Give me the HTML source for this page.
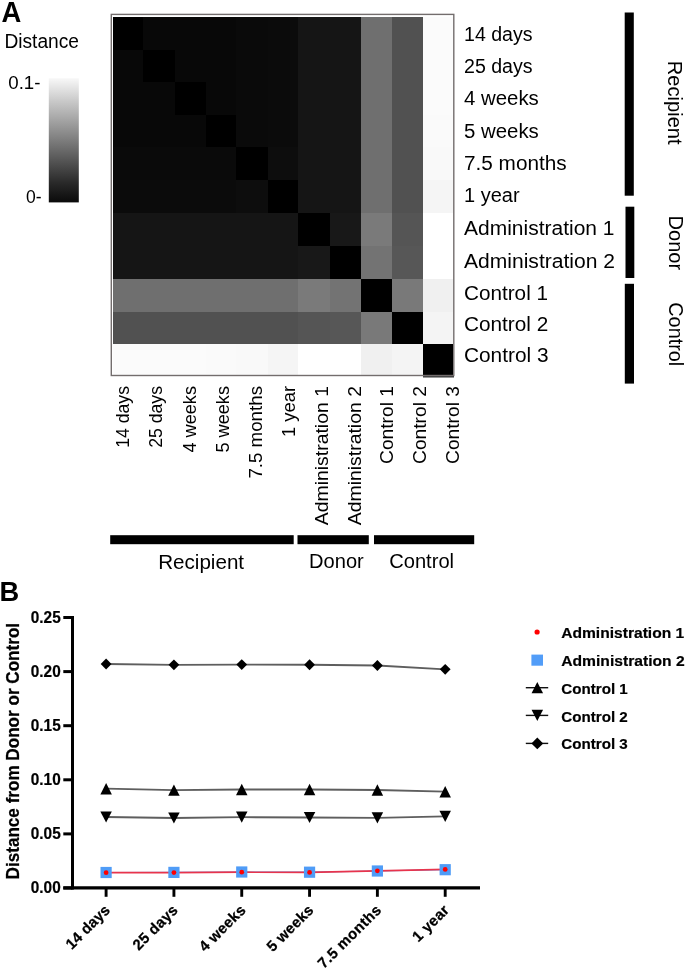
<!DOCTYPE html>
<html><head><meta charset="utf-8"><title>Figure</title>
<style>
html,body{margin:0;padding:0;background:#fff;}
body{width:687px;height:970px;overflow:hidden;font-family:"Liberation Sans",sans-serif;}
svg{display:block;will-change:transform;}
svg text{font-family:"Liberation Sans",sans-serif;fill:#000;}
</style></head><body>
<svg width="687" height="970" viewBox="0 0 687 970">

<text x="1.4" y="21.6"  font-weight="bold" font-size="29.5" textLength="19.8" lengthAdjust="spacingAndGlyphs">A</text>
<text x="4.4" y="47.7"  font-size="19.5" textLength="74.6" lengthAdjust="spacingAndGlyphs">Distance</text>
<defs><linearGradient id="cb" x1="0" y1="0" x2="0" y2="1"><stop offset="0" stop-color="#f8f8f8"/><stop offset="0.18" stop-color="#cacaca"/><stop offset="0.52" stop-color="#787878"/><stop offset="0.84" stop-color="#2a2a2a"/><stop offset="1" stop-color="#0a0a0a"/></linearGradient></defs>
<rect x="48.8" y="78.2" width="30" height="124.2" fill="url(#cb)"/>
<text x="8.3" y="89.3"  font-size="19.2" textLength="32.2" lengthAdjust="spacingAndGlyphs">0.1-</text>
<text x="26.1" y="202.5"  font-size="19.2" textLength="15.6" lengthAdjust="spacingAndGlyphs">0-</text>
<g shape-rendering="crispEdges">
<rect x="112.60" y="16.80" width="30.00" height="33.00" fill="rgb(0,0,0)"/>
<rect x="142.60" y="16.80" width="32.10" height="33.00" fill="rgb(8,8,8)"/>
<rect x="174.70" y="16.80" width="31.10" height="33.00" fill="rgb(8,8,8)"/>
<rect x="205.80" y="16.80" width="30.40" height="33.00" fill="rgb(8,8,8)"/>
<rect x="236.20" y="16.80" width="31.90" height="33.00" fill="rgb(10,10,10)"/>
<rect x="268.10" y="16.80" width="30.20" height="33.00" fill="rgb(11,11,11)"/>
<rect x="298.30" y="16.80" width="31.30" height="33.00" fill="rgb(21,21,21)"/>
<rect x="329.60" y="16.80" width="31.10" height="33.00" fill="rgb(21,21,21)"/>
<rect x="360.70" y="16.80" width="31.30" height="33.00" fill="rgb(111,111,111)"/>
<rect x="392.00" y="16.80" width="31.00" height="33.00" fill="rgb(81,81,81)"/>
<rect x="423.00" y="16.80" width="30.00" height="33.00" fill="rgb(251,251,251)"/>
<rect x="112.60" y="49.80" width="30.00" height="32.00" fill="rgb(8,8,8)"/>
<rect x="142.60" y="49.80" width="32.10" height="32.00" fill="rgb(0,0,0)"/>
<rect x="174.70" y="49.80" width="31.10" height="32.00" fill="rgb(8,8,8)"/>
<rect x="205.80" y="49.80" width="30.40" height="32.00" fill="rgb(8,8,8)"/>
<rect x="236.20" y="49.80" width="31.90" height="32.00" fill="rgb(10,10,10)"/>
<rect x="268.10" y="49.80" width="30.20" height="32.00" fill="rgb(11,11,11)"/>
<rect x="298.30" y="49.80" width="31.30" height="32.00" fill="rgb(21,21,21)"/>
<rect x="329.60" y="49.80" width="31.10" height="32.00" fill="rgb(21,21,21)"/>
<rect x="360.70" y="49.80" width="31.30" height="32.00" fill="rgb(111,111,111)"/>
<rect x="392.00" y="49.80" width="31.00" height="32.00" fill="rgb(81,81,81)"/>
<rect x="423.00" y="49.80" width="30.00" height="32.00" fill="rgb(251,251,251)"/>
<rect x="112.60" y="81.80" width="30.00" height="33.20" fill="rgb(8,8,8)"/>
<rect x="142.60" y="81.80" width="32.10" height="33.20" fill="rgb(8,8,8)"/>
<rect x="174.70" y="81.80" width="31.10" height="33.20" fill="rgb(0,0,0)"/>
<rect x="205.80" y="81.80" width="30.40" height="33.20" fill="rgb(8,8,8)"/>
<rect x="236.20" y="81.80" width="31.90" height="33.20" fill="rgb(10,10,10)"/>
<rect x="268.10" y="81.80" width="30.20" height="33.20" fill="rgb(11,11,11)"/>
<rect x="298.30" y="81.80" width="31.30" height="33.20" fill="rgb(21,21,21)"/>
<rect x="329.60" y="81.80" width="31.10" height="33.20" fill="rgb(21,21,21)"/>
<rect x="360.70" y="81.80" width="31.30" height="33.20" fill="rgb(111,111,111)"/>
<rect x="392.00" y="81.80" width="31.00" height="33.20" fill="rgb(81,81,81)"/>
<rect x="423.00" y="81.80" width="30.00" height="33.20" fill="rgb(251,251,251)"/>
<rect x="112.60" y="115.00" width="30.00" height="32.40" fill="rgb(8,8,8)"/>
<rect x="142.60" y="115.00" width="32.10" height="32.40" fill="rgb(8,8,8)"/>
<rect x="174.70" y="115.00" width="31.10" height="32.40" fill="rgb(8,8,8)"/>
<rect x="205.80" y="115.00" width="30.40" height="32.40" fill="rgb(0,0,0)"/>
<rect x="236.20" y="115.00" width="31.90" height="32.40" fill="rgb(10,10,10)"/>
<rect x="268.10" y="115.00" width="30.20" height="32.40" fill="rgb(11,11,11)"/>
<rect x="298.30" y="115.00" width="31.30" height="32.40" fill="rgb(21,21,21)"/>
<rect x="329.60" y="115.00" width="31.10" height="32.40" fill="rgb(21,21,21)"/>
<rect x="360.70" y="115.00" width="31.30" height="32.40" fill="rgb(111,111,111)"/>
<rect x="392.00" y="115.00" width="31.00" height="32.40" fill="rgb(81,81,81)"/>
<rect x="423.00" y="115.00" width="30.00" height="32.40" fill="rgb(250,250,250)"/>
<rect x="112.60" y="147.40" width="30.00" height="32.90" fill="rgb(10,10,10)"/>
<rect x="142.60" y="147.40" width="32.10" height="32.90" fill="rgb(10,10,10)"/>
<rect x="174.70" y="147.40" width="31.10" height="32.90" fill="rgb(10,10,10)"/>
<rect x="205.80" y="147.40" width="30.40" height="32.90" fill="rgb(10,10,10)"/>
<rect x="236.20" y="147.40" width="31.90" height="32.90" fill="rgb(0,0,0)"/>
<rect x="268.10" y="147.40" width="30.20" height="32.90" fill="rgb(13,13,13)"/>
<rect x="298.30" y="147.40" width="31.30" height="32.90" fill="rgb(21,21,21)"/>
<rect x="329.60" y="147.40" width="31.10" height="32.90" fill="rgb(21,21,21)"/>
<rect x="360.70" y="147.40" width="31.30" height="32.90" fill="rgb(111,111,111)"/>
<rect x="392.00" y="147.40" width="31.00" height="32.90" fill="rgb(81,81,81)"/>
<rect x="423.00" y="147.40" width="30.00" height="32.90" fill="rgb(249,249,249)"/>
<rect x="112.60" y="180.30" width="30.00" height="32.90" fill="rgb(11,11,11)"/>
<rect x="142.60" y="180.30" width="32.10" height="32.90" fill="rgb(11,11,11)"/>
<rect x="174.70" y="180.30" width="31.10" height="32.90" fill="rgb(11,11,11)"/>
<rect x="205.80" y="180.30" width="30.40" height="32.90" fill="rgb(11,11,11)"/>
<rect x="236.20" y="180.30" width="31.90" height="32.90" fill="rgb(13,13,13)"/>
<rect x="268.10" y="180.30" width="30.20" height="32.90" fill="rgb(0,0,0)"/>
<rect x="298.30" y="180.30" width="31.30" height="32.90" fill="rgb(21,21,21)"/>
<rect x="329.60" y="180.30" width="31.10" height="32.90" fill="rgb(21,21,21)"/>
<rect x="360.70" y="180.30" width="31.30" height="32.90" fill="rgb(111,111,111)"/>
<rect x="392.00" y="180.30" width="31.00" height="32.90" fill="rgb(81,81,81)"/>
<rect x="423.00" y="180.30" width="30.00" height="32.90" fill="rgb(245,245,245)"/>
<rect x="112.60" y="213.20" width="30.00" height="32.60" fill="rgb(21,21,21)"/>
<rect x="142.60" y="213.20" width="32.10" height="32.60" fill="rgb(21,21,21)"/>
<rect x="174.70" y="213.20" width="31.10" height="32.60" fill="rgb(21,21,21)"/>
<rect x="205.80" y="213.20" width="30.40" height="32.60" fill="rgb(21,21,21)"/>
<rect x="236.20" y="213.20" width="31.90" height="32.60" fill="rgb(21,21,21)"/>
<rect x="268.10" y="213.20" width="30.20" height="32.60" fill="rgb(21,21,21)"/>
<rect x="298.30" y="213.20" width="31.30" height="32.60" fill="rgb(0,0,0)"/>
<rect x="329.60" y="213.20" width="31.10" height="32.60" fill="rgb(24,24,24)"/>
<rect x="360.70" y="213.20" width="31.30" height="32.60" fill="rgb(122,122,122)"/>
<rect x="392.00" y="213.20" width="31.00" height="32.60" fill="rgb(85,85,85)"/>
<rect x="423.00" y="213.20" width="30.00" height="32.60" fill="rgb(255,255,255)"/>
<rect x="112.60" y="245.80" width="30.00" height="32.90" fill="rgb(21,21,21)"/>
<rect x="142.60" y="245.80" width="32.10" height="32.90" fill="rgb(21,21,21)"/>
<rect x="174.70" y="245.80" width="31.10" height="32.90" fill="rgb(21,21,21)"/>
<rect x="205.80" y="245.80" width="30.40" height="32.90" fill="rgb(21,21,21)"/>
<rect x="236.20" y="245.80" width="31.90" height="32.90" fill="rgb(21,21,21)"/>
<rect x="268.10" y="245.80" width="30.20" height="32.90" fill="rgb(21,21,21)"/>
<rect x="298.30" y="245.80" width="31.30" height="32.90" fill="rgb(24,24,24)"/>
<rect x="329.60" y="245.80" width="31.10" height="32.90" fill="rgb(0,0,0)"/>
<rect x="360.70" y="245.80" width="31.30" height="32.90" fill="rgb(115,115,115)"/>
<rect x="392.00" y="245.80" width="31.00" height="32.90" fill="rgb(87,87,87)"/>
<rect x="423.00" y="245.80" width="30.00" height="32.90" fill="rgb(255,255,255)"/>
<rect x="112.60" y="278.70" width="30.00" height="32.80" fill="rgb(111,111,111)"/>
<rect x="142.60" y="278.70" width="32.10" height="32.80" fill="rgb(111,111,111)"/>
<rect x="174.70" y="278.70" width="31.10" height="32.80" fill="rgb(111,111,111)"/>
<rect x="205.80" y="278.70" width="30.40" height="32.80" fill="rgb(111,111,111)"/>
<rect x="236.20" y="278.70" width="31.90" height="32.80" fill="rgb(111,111,111)"/>
<rect x="268.10" y="278.70" width="30.20" height="32.80" fill="rgb(111,111,111)"/>
<rect x="298.30" y="278.70" width="31.30" height="32.80" fill="rgb(122,122,122)"/>
<rect x="329.60" y="278.70" width="31.10" height="32.80" fill="rgb(115,115,115)"/>
<rect x="360.70" y="278.70" width="31.30" height="32.80" fill="rgb(0,0,0)"/>
<rect x="392.00" y="278.70" width="31.00" height="32.80" fill="rgb(121,121,121)"/>
<rect x="423.00" y="278.70" width="30.00" height="32.80" fill="rgb(240,240,240)"/>
<rect x="112.60" y="311.50" width="30.00" height="32.50" fill="rgb(81,81,81)"/>
<rect x="142.60" y="311.50" width="32.10" height="32.50" fill="rgb(81,81,81)"/>
<rect x="174.70" y="311.50" width="31.10" height="32.50" fill="rgb(81,81,81)"/>
<rect x="205.80" y="311.50" width="30.40" height="32.50" fill="rgb(81,81,81)"/>
<rect x="236.20" y="311.50" width="31.90" height="32.50" fill="rgb(81,81,81)"/>
<rect x="268.10" y="311.50" width="30.20" height="32.50" fill="rgb(81,81,81)"/>
<rect x="298.30" y="311.50" width="31.30" height="32.50" fill="rgb(85,85,85)"/>
<rect x="329.60" y="311.50" width="31.10" height="32.50" fill="rgb(87,87,87)"/>
<rect x="360.70" y="311.50" width="31.30" height="32.50" fill="rgb(121,121,121)"/>
<rect x="392.00" y="311.50" width="31.00" height="32.50" fill="rgb(0,0,0)"/>
<rect x="423.00" y="311.50" width="30.00" height="32.50" fill="rgb(244,244,244)"/>
<rect x="112.60" y="344.00" width="30.00" height="30.75" fill="rgb(251,251,251)"/>
<rect x="142.60" y="344.00" width="32.10" height="30.75" fill="rgb(251,251,251)"/>
<rect x="174.70" y="344.00" width="31.10" height="30.75" fill="rgb(251,251,251)"/>
<rect x="205.80" y="344.00" width="30.40" height="30.75" fill="rgb(250,250,250)"/>
<rect x="236.20" y="344.00" width="31.90" height="30.75" fill="rgb(249,249,249)"/>
<rect x="268.10" y="344.00" width="30.20" height="30.75" fill="rgb(245,245,245)"/>
<rect x="298.30" y="344.00" width="31.30" height="30.75" fill="rgb(255,255,255)"/>
<rect x="329.60" y="344.00" width="31.10" height="30.75" fill="rgb(255,255,255)"/>
<rect x="360.70" y="344.00" width="31.30" height="30.75" fill="rgb(240,240,240)"/>
<rect x="392.00" y="344.00" width="31.00" height="30.75" fill="rgb(244,244,244)"/>
<rect x="423.00" y="344.00" width="30.00" height="30.75" fill="rgb(0,0,0)"/>
</g>
<rect x="111.3" y="14.4" width="342.5" height="361.1" fill="none" stroke="#736d6d" stroke-width="1.4"/>
<rect x="423" y="376.1" width="31" height="1.4" fill="#333"/>
<text x="464.0" y="40.6"  font-size="19.5" textLength="68.6" lengthAdjust="spacingAndGlyphs">14 days</text>
<text x="464.0" y="72.75"  font-size="19.5" textLength="68.6" lengthAdjust="spacingAndGlyphs">25 days</text>
<text x="464.0" y="105.2"  font-size="19.5" textLength="74.8" lengthAdjust="spacingAndGlyphs">4 weeks</text>
<text x="464.0" y="137.7"  font-size="19.5" textLength="74.8" lengthAdjust="spacingAndGlyphs">5 weeks</text>
<text x="464.0" y="170.0"  font-size="19.5" textLength="102.7" lengthAdjust="spacingAndGlyphs">7.5 months</text>
<text x="464.0" y="202.0"  font-size="19.5" textLength="55.6" lengthAdjust="spacingAndGlyphs">1 year</text>
<text x="464.0" y="235.2"  font-size="19.5" textLength="150.5" lengthAdjust="spacingAndGlyphs">Administration 1</text>
<text x="464.0" y="267.5"  font-size="19.5" textLength="151.0" lengthAdjust="spacingAndGlyphs">Administration 2</text>
<text x="464.0" y="299.65"  font-size="19.5" textLength="84.0" lengthAdjust="spacingAndGlyphs">Control 1</text>
<text x="464.0" y="331.0"  font-size="19.5" textLength="84.2" lengthAdjust="spacingAndGlyphs">Control 2</text>
<text x="464.0" y="361.5"  font-size="19.5" textLength="84.5" lengthAdjust="spacingAndGlyphs">Control 3</text>
<rect x="624.7" y="12.5" width="9.1" height="183.2" fill="#000"/>
<rect x="625.5" y="206.7" width="8.8" height="71.3" fill="#000"/>
<rect x="624.8" y="283.8" width="9.2" height="99.8" fill="#000"/>
<text transform="translate(667.6,60.8) rotate(90)"  font-size="19.5" textLength="83.8" lengthAdjust="spacingAndGlyphs">Recipient</text>
<text transform="translate(669.2,215.5) rotate(90)"  font-size="19.5" textLength="54.7" lengthAdjust="spacingAndGlyphs">Donor</text>
<text transform="translate(669.2,302.3) rotate(90)"  font-size="19.5" textLength="63.9" lengthAdjust="spacingAndGlyphs">Control</text>
<text transform="translate(128.90,386) rotate(-90)" text-anchor="end"  font-size="18" textLength="61.8" lengthAdjust="spacingAndGlyphs">14 days</text>
<text transform="translate(161.90,386) rotate(-90)" text-anchor="end"  font-size="18" textLength="61.8" lengthAdjust="spacingAndGlyphs">25 days</text>
<text transform="translate(195.90,386) rotate(-90)" text-anchor="end"  font-size="18" textLength="66.5" lengthAdjust="spacingAndGlyphs">4 weeks</text>
<text transform="translate(228.90,386) rotate(-90)" text-anchor="end"  font-size="18" textLength="66.5" lengthAdjust="spacingAndGlyphs">5 weeks</text>
<text transform="translate(261.90,386) rotate(-90)" text-anchor="end"  font-size="18" textLength="92.6" lengthAdjust="spacingAndGlyphs">7.5 months</text>
<text transform="translate(294.90,386) rotate(-90)" text-anchor="end"  font-size="18" textLength="51" lengthAdjust="spacingAndGlyphs">1 year</text>
<text transform="translate(327.90,386) rotate(-90)" text-anchor="end"  font-size="18" textLength="139.3" lengthAdjust="spacingAndGlyphs">Administration 1</text>
<text transform="translate(360.90,386) rotate(-90)" text-anchor="end"  font-size="18" textLength="139.3" lengthAdjust="spacingAndGlyphs">Administration 2</text>
<text transform="translate(393.10,386) rotate(-90)" text-anchor="end"  font-size="18" textLength="78" lengthAdjust="spacingAndGlyphs">Control 1</text>
<text transform="translate(426.10,386) rotate(-90)" text-anchor="end"  font-size="18" textLength="78" lengthAdjust="spacingAndGlyphs">Control 2</text>
<text transform="translate(459.30,386) rotate(-90)" text-anchor="end"  font-size="18" textLength="78" lengthAdjust="spacingAndGlyphs">Control 3</text>
<rect x="110.2" y="535.2" width="183.5" height="9" fill="#000"/>
<rect x="297.5" y="535.2" width="71.3" height="9" fill="#000"/>
<rect x="374" y="535.2" width="100.2" height="9" fill="#000"/>
<text x="158.2" y="569.3"  font-size="21" textLength="85.9" lengthAdjust="spacingAndGlyphs">Recipient</text>
<text x="309.1" y="567.8"  font-size="20" textLength="54.7" lengthAdjust="spacingAndGlyphs">Donor</text>
<text x="389.2" y="567.8"  font-size="20" textLength="64.9" lengthAdjust="spacingAndGlyphs">Control</text>
<text x="-0.4" y="601.1"  font-weight="bold" font-size="27.8" textLength="19.7" lengthAdjust="spacingAndGlyphs">B</text>
<text transform="translate(19.2,879.4) rotate(-90)"  font-weight="bold" font-size="19" stroke="#000" stroke-width="0.25" textLength="256.5" lengthAdjust="spacingAndGlyphs">Distance from Donor or Control</text>
<line x1="72.5" y1="616.0" x2="72.5" y2="889.5" stroke="#000" stroke-width="3.0"/>
<line x1="63.3" y1="887.9" x2="480" y2="887.9" stroke="#000" stroke-width="3.1"/>
<line x1="63.3" y1="888.00" x2="72.5" y2="888.00" stroke="#000" stroke-width="3.0"/>
<text x="60.7" y="893.30" text-anchor="end"  font-weight="bold" font-size="17" stroke="#000" stroke-width="0.22" textLength="29.9" lengthAdjust="spacingAndGlyphs">0.00</text>
<line x1="63.3" y1="833.90" x2="72.5" y2="833.90" stroke="#000" stroke-width="3.0"/>
<text x="60.7" y="839.20" text-anchor="end"  font-weight="bold" font-size="17" stroke="#000" stroke-width="0.22" textLength="29.9" lengthAdjust="spacingAndGlyphs">0.05</text>
<line x1="63.3" y1="779.80" x2="72.5" y2="779.80" stroke="#000" stroke-width="3.0"/>
<text x="60.7" y="785.10" text-anchor="end"  font-weight="bold" font-size="17" stroke="#000" stroke-width="0.22" textLength="29.9" lengthAdjust="spacingAndGlyphs">0.10</text>
<line x1="63.3" y1="725.70" x2="72.5" y2="725.70" stroke="#000" stroke-width="3.0"/>
<text x="60.7" y="731.00" text-anchor="end"  font-weight="bold" font-size="17" stroke="#000" stroke-width="0.22" textLength="29.9" lengthAdjust="spacingAndGlyphs">0.15</text>
<line x1="63.3" y1="671.60" x2="72.5" y2="671.60" stroke="#000" stroke-width="3.0"/>
<text x="60.7" y="676.90" text-anchor="end"  font-weight="bold" font-size="17" stroke="#000" stroke-width="0.22" textLength="29.9" lengthAdjust="spacingAndGlyphs">0.20</text>
<line x1="63.3" y1="617.50" x2="72.5" y2="617.50" stroke="#000" stroke-width="3.0"/>
<text x="60.7" y="622.80" text-anchor="end"  font-weight="bold" font-size="17" stroke="#000" stroke-width="0.22" textLength="29.9" lengthAdjust="spacingAndGlyphs">0.25</text>
<line x1="106.10" y1="887" x2="106.10" y2="896.8" stroke="#000" stroke-width="2.9"/>
<line x1="173.92" y1="887" x2="173.92" y2="896.8" stroke="#000" stroke-width="2.9"/>
<line x1="241.74" y1="887" x2="241.74" y2="896.8" stroke="#000" stroke-width="2.9"/>
<line x1="309.56" y1="887" x2="309.56" y2="896.8" stroke="#000" stroke-width="2.9"/>
<line x1="377.38" y1="887" x2="377.38" y2="896.8" stroke="#000" stroke-width="2.9"/>
<line x1="445.20" y1="887" x2="445.20" y2="896.8" stroke="#000" stroke-width="2.9"/>
<text transform="translate(110.90,911) rotate(-45)" text-anchor="end"  font-weight="bold" font-size="15" stroke="#000" stroke-width="0.25" textLength="55.5">14 days</text>
<text transform="translate(178.72,911) rotate(-45)" text-anchor="end"  font-weight="bold" font-size="15" stroke="#000" stroke-width="0.25" textLength="56.5">25 days</text>
<text transform="translate(246.54,911) rotate(-45)" text-anchor="end"  font-weight="bold" font-size="15" stroke="#000" stroke-width="0.25" textLength="58.7">4 weeks</text>
<text transform="translate(314.36,911) rotate(-45)" text-anchor="end"  font-weight="bold" font-size="15" stroke="#000" stroke-width="0.25" textLength="58.7">5 weeks</text>
<text transform="translate(382.18,911) rotate(-45)" text-anchor="end"  font-weight="bold" font-size="15" stroke="#000" stroke-width="0.25" textLength="82.5">7.5 months</text>
<text transform="translate(450.00,911) rotate(-45)" text-anchor="end"  font-weight="bold" font-size="15" stroke="#000" stroke-width="0.25" textLength="45.0">1 year</text>
<polyline points="106.10,664.00 173.92,664.80 241.74,664.60 309.56,664.75 377.38,665.50 445.20,669.30" fill="none" stroke="#5e5e5e" stroke-width="1.8"/>
<polyline points="106.10,788.70 173.92,790.10 241.74,789.50 309.56,789.50 377.38,790.00 445.20,791.70" fill="none" stroke="#5e5e5e" stroke-width="1.8"/>
<polyline points="106.10,817.00 173.92,818.00 241.74,817.20 309.56,817.50 377.38,817.80 445.20,816.30" fill="none" stroke="#5e5e5e" stroke-width="1.8"/>
<polyline points="106.10,872.50 173.92,872.40 241.74,872.00 309.56,872.20 377.38,871.00 445.20,869.70" fill="none" stroke="#4f9cf7" stroke-width="1.2"/>
<polyline points="106.10,872.70 173.92,872.60 241.74,872.20 309.56,872.40 377.38,870.80 445.20,869.40" fill="none" stroke="#e8344c" stroke-width="1.7"/>
<path d="M106.10 658.60L111.50 664.00L106.10 669.40L100.70 664.00Z" fill="#000"/>
<path d="M173.92 659.40L179.32 664.80L173.92 670.20L168.52 664.80Z" fill="#000"/>
<path d="M241.74 659.20L247.14 664.60L241.74 670.00L236.34 664.60Z" fill="#000"/>
<path d="M309.56 659.35L314.96 664.75L309.56 670.15L304.16 664.75Z" fill="#000"/>
<path d="M377.38 660.10L382.78 665.50L377.38 670.90L371.98 665.50Z" fill="#000"/>
<path d="M445.20 663.90L450.60 669.30L445.20 674.70L439.80 669.30Z" fill="#000"/>
<path d="M106.10 783.00L111.85 794.40L100.35 794.40Z" fill="#000"/>
<path d="M173.92 784.40L179.67 795.80L168.17 795.80Z" fill="#000"/>
<path d="M241.74 783.80L247.49 795.20L235.99 795.20Z" fill="#000"/>
<path d="M309.56 783.80L315.31 795.20L303.81 795.20Z" fill="#000"/>
<path d="M377.38 784.30L383.13 795.70L371.63 795.70Z" fill="#000"/>
<path d="M445.20 786.00L450.95 797.40L439.45 797.40Z" fill="#000"/>
<path d="M100.35 811.40L111.85 811.40L106.10 822.60Z" fill="#000"/>
<path d="M168.17 812.40L179.67 812.40L173.92 823.60Z" fill="#000"/>
<path d="M235.99 811.60L247.49 811.60L241.74 822.80Z" fill="#000"/>
<path d="M303.81 811.90L315.31 811.90L309.56 823.10Z" fill="#000"/>
<path d="M371.63 812.20L383.13 812.20L377.38 823.40Z" fill="#000"/>
<path d="M439.45 810.70L450.95 810.70L445.20 821.90Z" fill="#000"/>
<rect x="100.50" y="866.90" width="11.2" height="11.2" fill="#4f9cf7"/>
<rect x="168.32" y="866.80" width="11.2" height="11.2" fill="#4f9cf7"/>
<rect x="236.14" y="866.40" width="11.2" height="11.2" fill="#4f9cf7"/>
<rect x="303.96" y="866.60" width="11.2" height="11.2" fill="#4f9cf7"/>
<rect x="371.78" y="865.40" width="11.2" height="11.2" fill="#4f9cf7"/>
<rect x="439.60" y="864.10" width="11.2" height="11.2" fill="#4f9cf7"/>
<circle cx="106.10" cy="872.70" r="2.4" fill="#ff0000"/>
<circle cx="173.92" cy="872.60" r="2.4" fill="#ff0000"/>
<circle cx="241.74" cy="872.20" r="2.4" fill="#ff0000"/>
<circle cx="309.56" cy="872.40" r="2.4" fill="#ff0000"/>
<circle cx="377.38" cy="870.80" r="2.4" fill="#ff0000"/>
<circle cx="445.20" cy="869.40" r="2.4" fill="#ff0000"/>
<circle cx="537.10" cy="632.00" r="2.6" fill="#ff0000"/>
<rect x="531.40" y="654.60" width="11.6" height="11.1" fill="#529df8"/>
<line x1="525.8" y1="687.7" x2="548.2" y2="687.7" stroke="#111" stroke-width="1.4"/>
<line x1="525.8" y1="715.4" x2="548.2" y2="715.4" stroke="#111" stroke-width="1.4"/>
<line x1="525.8" y1="743.4" x2="548.2" y2="743.4" stroke="#111" stroke-width="1.4"/>
<path d="M537.30 682.10L543.05 693.30L531.55 693.30Z" fill="#000"/>
<path d="M531.55 709.80L543.05 709.80L537.30 721.00Z" fill="#000"/>
<path d="M537.30 737.50L543.20 743.40L537.30 749.30L531.40 743.40Z" fill="#000"/>
<text x="561.2" y="638.1"  font-weight="bold" font-size="15.5" stroke="#000" stroke-width="0.2" textLength="123.1" lengthAdjust="spacingAndGlyphs">Administration 1</text>
<text x="561.2" y="665.9"  font-weight="bold" font-size="15.5" stroke="#000" stroke-width="0.2" textLength="123.5" lengthAdjust="spacingAndGlyphs">Administration 2</text>
<text x="561.2" y="694.2"  font-weight="bold" font-size="15.5" stroke="#000" stroke-width="0.2" textLength="66.6" lengthAdjust="spacingAndGlyphs">Control 1</text>
<text x="561.2" y="721.5"  font-weight="bold" font-size="15.5" stroke="#000" stroke-width="0.2" textLength="66.6" lengthAdjust="spacingAndGlyphs">Control 2</text>
<text x="561.2" y="748.6"  font-weight="bold" font-size="15.5" stroke="#000" stroke-width="0.2" textLength="66.6" lengthAdjust="spacingAndGlyphs">Control 3</text>
</svg>
</body></html>
